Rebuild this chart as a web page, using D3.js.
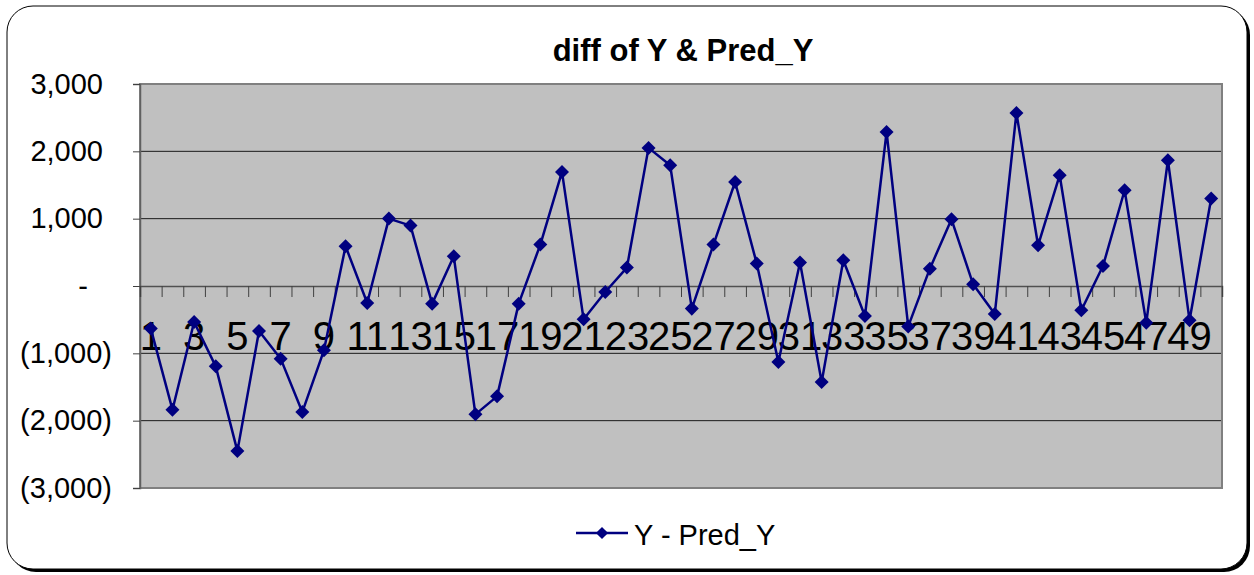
<!DOCTYPE html>
<html>
<head>
<meta charset="utf-8">
<script src="https://cdn.jsdelivr.net/npm/d3@7"></script>
<style>
  html, body { margin: 0; padding: 0; background: #fff; }
  svg { display: block; font-family: "Liberation Sans", Arial, sans-serif; }
</style>
</head>
<body>
<svg id="chart" width="1254" height="575"></svg>
<script>
// Residuals: observed Y minus predicted Y, one per observation
const categories = d3.range(1, 51);
const residuals = [-633, -1837, -535, -1193, -2452, -669, -1079, -1872, -955, 590,
  -253, 1001, 897, -262, 441, -1906, -1639, -262, 615, 1694,
  -495, -89, 273, 2051, 1793, -336, 615, 1545, 333, -1129,
  348, -1426, 382, -446, 2288, -600, 258, 991, 25, -415,
  2571, 605, 1645, -361, 297, 1422, -547, 1868, -510, 1299];
const yTicks = [-3000, -2000, -1000, 0, 1000, 2000, 3000];
const xTickLabels = categories.filter(d => d % 2 === 1);
const seriesName = "Y - Pred_Y";
const titleText = "diff of Y & Pred_Y";

const svg = d3.select("#chart");
const plot = { left: 140, right: 1222, top: 84, bottom: 488 };
const navy = "#000080";

// Chart frame with drop shadow
svg.append("rect")
  .attr("x", 10).attr("y", 9).attr("width", 1240).attr("height", 563)
  .attr("rx", 26).attr("fill", "#000");
svg.append("rect")
  .attr("x", 7).attr("y", 6).attr("width", 1240).attr("height", 563)
  .attr("rx", 26).attr("fill", "#fff").attr("stroke", "#000").attr("stroke-width", 1);

// Scales
const x = d3.scaleBand().domain(categories).range([plot.left, plot.right]).padding(0);
const xEdge = d3.scaleLinear().domain([0, categories.length]).range([plot.left, plot.right]);
const y = d3.scaleLinear().domain([-3000, 3000]).range([plot.bottom, plot.top]);
const cx = d => x(d) + x.bandwidth() / 2;

// Plot area
svg.append("rect")
  .attr("x", plot.left).attr("y", plot.top)
  .attr("width", plot.right - plot.left).attr("height", plot.bottom - plot.top)
  .attr("fill", "#c0c0c0");

// Horizontal gridlines
svg.append("g")
  .selectAll("line")
  .data(yTicks.filter(v => v !== 0 && v !== 3000 && v !== -3000))
  .join("line")
  .attr("x1", plot.left).attr("x2", plot.right)
  .attr("y1", d => y(d)).attr("y2", d => y(d))
  .attr("stroke", "#1a1a1a").attr("stroke-width", 1);

// Plot border
svg.append("rect")
  .attr("x", plot.left).attr("y", plot.top)
  .attr("width", plot.right - plot.left).attr("height", plot.bottom - plot.top)
  .attr("fill", "none").attr("stroke", "#808080").attr("stroke-width", 2);

// Y axis
const yFmt = v => v === 0 ? "-" : (v < 0 ? "(" + d3.format(",")(-v) + ")" : d3.format(",")(v));
const yAxis = svg.append("g")
  .attr("transform", `translate(${plot.left},0)`)
  .call(d3.axisLeft(y).tickValues(yTicks).tickFormat(yFmt).tickSize(7).tickPadding(0));
yAxis.select(".domain").attr("stroke", "#606060").attr("stroke-width", 1.5);
yAxis.selectAll(".tick line").attr("stroke", "#404040");
yAxis.selectAll(".tick text")
  .attr("font-size", 29).attr("fill", "#000")
  .attr("font-family", "'Liberation Sans', Arial, sans-serif")
  .attr("x", d => d < 0 ? -28 : (d === 0 ? -52 : -37));

// Zero line with category boundary ticks
const zeroY = y(0);
const xTickAxis = svg.append("g")
  .attr("transform", `translate(0,${zeroY})`)
  .call(d3.axisBottom(xEdge).tickValues(d3.range(0, categories.length + 1))
    .tickSize(11).tickFormat(""));
xTickAxis.select(".domain").attr("stroke", "#505050").attr("stroke-width", 1.5);
xTickAxis.selectAll(".tick line").attr("stroke", "#404040").attr("stroke-width", 1);

// Category labels (every other category)
const xLabelAxis = svg.append("g")
  .attr("transform", `translate(0,${zeroY})`)
  .call(d3.axisBottom(x).tickValues(xTickLabels).tickSize(0).tickPadding(36));
xLabelAxis.select(".domain").remove();
xLabelAxis.selectAll(".tick text")
  .attr("font-size", 40).attr("fill", "#000")
  .attr("font-family", "'Liberation Sans', Arial, sans-serif");

// Series line
const line = d3.line().x((d, i) => cx(categories[i])).y(d => y(d));
svg.append("path")
  .datum(residuals)
  .attr("d", line)
  .attr("fill", "none").attr("stroke", navy).attr("stroke-width", 2.5)
  .attr("stroke-linejoin", "round");

// Diamond markers
const diamond = d3.symbol().type(d3.symbolDiamond2).size(125);
svg.append("g")
  .selectAll("path")
  .data(residuals)
  .join("path")
  .attr("d", diamond)
  .attr("transform", (d, i) => `translate(${cx(categories[i])},${y(d)})`)
  .attr("fill", navy);

// Title
svg.append("text")
  .attr("x", 683).attr("y", 61)
  .attr("text-anchor", "middle")
  .attr("font-size", 31).attr("font-weight", "bold")
  .text(titleText);

// Legend
const lg = svg.append("g").attr("transform", "translate(576,533)");
lg.append("line").attr("x1", 0).attr("x2", 52).attr("y1", 0).attr("y2", 0)
  .attr("stroke", navy).attr("stroke-width", 2.5);
lg.append("path").attr("d", d3.symbol().type(d3.symbolDiamond2).size(95))
  .attr("transform", "translate(26,0)").attr("fill", navy);
lg.append("text").attr("x", 58).attr("y", 12)
  .attr("font-size", 29).attr("fill", "#000").text(seriesName);
</script>
</body>
</html>
